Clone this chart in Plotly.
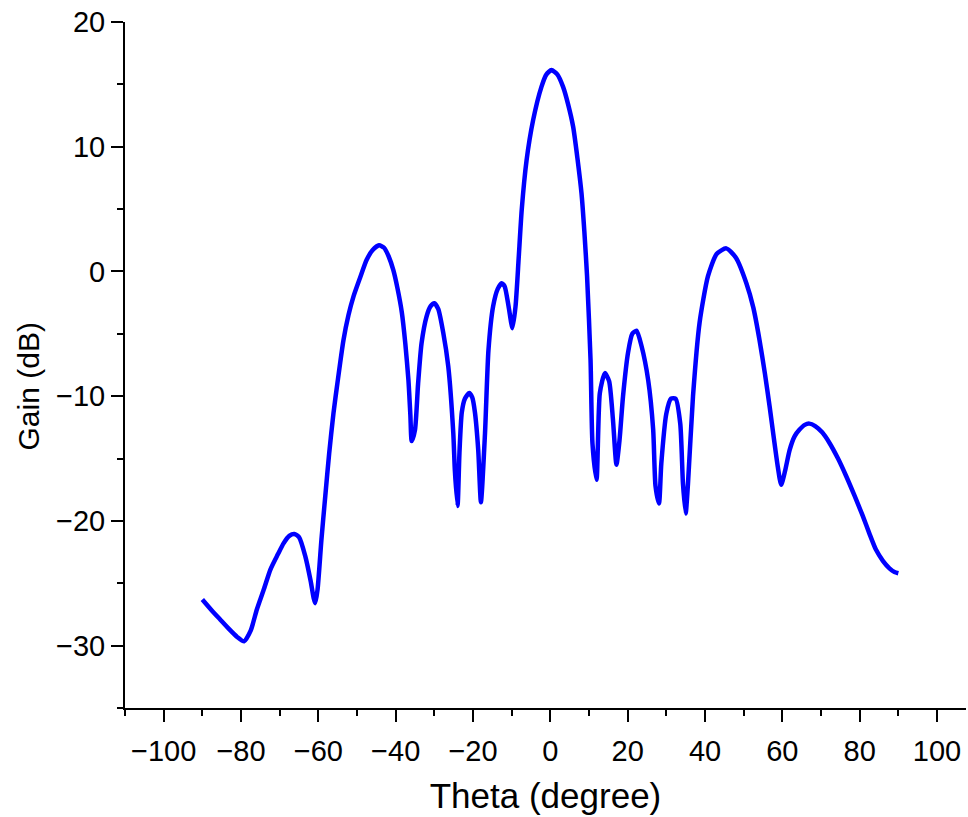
import plotly.graph_objects as go

theta = [-90, -87.5, -85.4, -83, -81, -79.2, -77.5, -75.9, -74, -72.4, -70.5, -69, -67.5, -66.2, -65,
         -63.4, -62, -61.2, -60.8, -60.2, -59.2, -58.2, -57.2, -56.1, -55, -53.5, -52.2, -50.9, -49.2,
         -47.5, -46, -44.3, -43, -41.8, -40.6, -39.5, -38.4, -37.5, -36.7, -36.2, -35.85, -35.0, -34.2,
         -33.3, -32.0, -31, -30.0, -29, -27.7, -26.4, -25.1, -24.7, -24.0, -23.5, -22.9, -22.1, -21.0,
         -20.2, -19.5, -18.65, -17.95, -16.9, -16.0, -14.8, -13.6, -12.6, -11.8, -10.8, -9.8, -9.0,
         -8.2, -7.4, -6.15, -4.44, -2.3, -1, 0.3, 1.8, 3.3, 4.6, 5.9, 7.0, 8.06, 8.8, 9.5, 10.4, 10.9,
         11.95, 12.8, 14.1, 15.2, 16.2, 17.1, 17.9, 18.8, 20.1, 21.2, 22.3, 23.6, 25.3, 26.6, 27.2, 28.1,
         28.7, 30.0, 31.2, 32.4, 33.6, 34.3, 35.0, 35.6, 36.9, 38.6, 40.75, 43, 45.5, 48, 50.7, 52.5,
         54.1, 55.5, 56.7, 58.8, 59.7, 60.7, 61.9, 63.2, 64.4, 65.8, 67.0, 68.5, 70.3, 72.2, 74.4, 76.5,
         78.7, 80.8, 82.5, 84.2, 86, 87.7, 89, 90]
gain = [-26.3, -27.2, -27.9, -28.7, -29.3, -29.65, -28.8, -27.1, -25.4, -23.9, -22.7, -21.8, -21.2, -21.05, -21.3,
        -22.8, -24.8, -26.2, -26.6, -25.5, -21.5, -18.0, -14.6, -11.4, -8.8, -5.5, -3.5, -2.0, -0.5,
        0.93, 1.7, 2.1, 1.9, 1.2, 0.1, -1.4, -3.3, -5.8, -8.7, -11.5, -13.6, -12.7, -9.0,
        -5.75, -3.6, -2.8, -2.54, -3.0, -4.9, -7.6, -12.95, -15.9, -18.8, -14.5, -11.3, -10.2, -9.75,
        -10.1, -11.3, -14.3, -18.5, -13.0, -6.3, -2.8, -1.4, -0.94, -1.2, -2.8, -4.55, -2.8,
        1.0, 4.94, 8.9, 12.15, 14.8, 15.8, 16.15, 15.8, 14.8, 13.4, 11.6, 9.1, 6.27, 3.2, -0.4, -7.1, -13.8,
        -16.7, -9.75, -8.15, -8.8, -11.9, -15.5, -13.5, -10.0, -6.5, -5.0, -4.75, -6.0, -8.7, -12.7, -17.2, -18.6,
        -15.4, -11.4, -10.2, -10.2, -12.2, -17.0, -19.4, -17.0, -10.0, -4.1, -0.4, 1.4, 1.85, 1.1, -0.94, -2.9,
        -5.5, -8.2, -10.8, -15.6, -17.1, -16.0, -14.3, -13.2, -12.7, -12.3, -12.2, -12.4, -12.9, -13.75, -15.0, -16.4,
        -18.0, -19.6, -21.0, -22.3, -23.2, -23.8, -24.1, -24.2]

x_title = "Theta (degree)"
y_title = "Gain (dB)"

FONT = "Liberation Sans, Arial, sans-serif"

fig = go.Figure()
fig.add_trace(go.Scatter(x=theta, y=gain, mode="lines",
                         line=dict(color="#0000ff", width=4.5, shape="spline", smoothing=0.6),
                         showlegend=False, hoverinfo="skip"))

fig.update_layout(
    width=968, height=817,
    margin=dict(l=125, r=2, t=22, b=109),
    plot_bgcolor="white", paper_bgcolor="white",
    font=dict(family=FONT, color="black"),
)
fig.update_xaxes(
    range=[-110, 107.5], tick0=0, dtick=20, ticks="outside", ticklen=12, tickwidth=2,
    tickcolor="black", showline=True, linecolor="black", linewidth=2, showgrid=False,
    zeroline=False, tickfont=dict(size=29, family=FONT), automargin=False,
    ticklabelstandoff=4, ticklabeloverflow="allow",
    minor=dict(dtick=10, ticks="outside", ticklen=6, tickwidth=2, tickcolor="black", showgrid=False),
    title=dict(text=x_title, font=dict(size=35, family=FONT), standoff=18),
)
fig.update_yaxes(
    range=[-35, 20], tick0=0, dtick=10, ticks="outside", ticklen=12, tickwidth=2,
    tickcolor="black", showline=True, linecolor="black", linewidth=2, showgrid=False,
    zeroline=False, tickfont=dict(size=29, family=FONT), automargin=False,
    ticklabeloverflow="allow",
    minor=dict(dtick=5, ticks="outside", ticklen=6, tickwidth=2, tickcolor="black", showgrid=False),
)
fig.add_annotation(text=y_title, textangle=-90, showarrow=False,
                   xref="paper", x=-0.115, xanchor="center",
                   yref="y", y=-9.2, yanchor="middle",
                   font=dict(size=30, family=FONT, color="black"))

fig.write_html("out.html", config={"displayModeBar": False},
               post_script="document.body.style.margin='0';")
